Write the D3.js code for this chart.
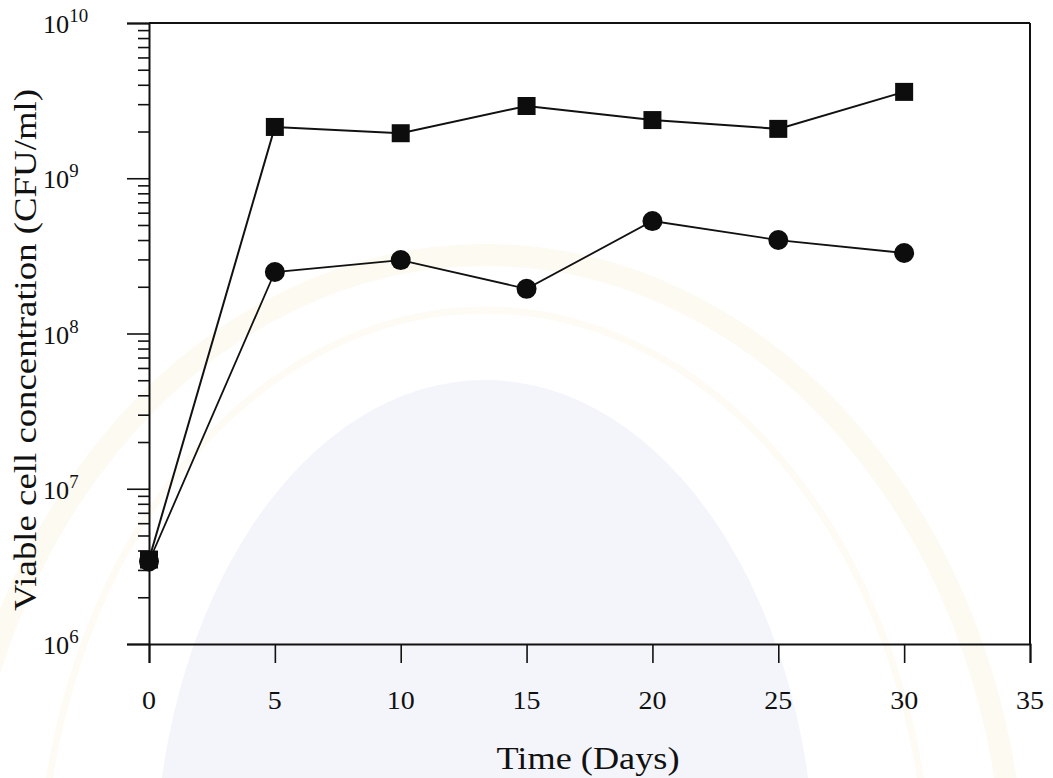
<!DOCTYPE html>
<html>
<head>
<meta charset="utf-8">
<script src="https://cdn.jsdelivr.net/npm/d3@7"></script>
<style>
  html, body { margin: 0; padding: 0; background: #ffffff; }
  svg { display: block; }
  text { font-family: "Liberation Serif", "DejaVu Serif", serif; fill: #111; }
</style>
</head>
<body>
<svg id="chart" width="1053" height="778"></svg>
<script>
// Sampling days
const days = [0, 5, 10, 15, 20, 25, 30];
// Viable cell counts (CFU/ml), square-marker series
const squareCounts = [3.5e6, 2.14e9, 1.95e9, 2.92e9, 2.37e9, 2.08e9, 3.6e9];
// Viable cell counts (CFU/ml), circle-marker series
const circleCounts = [3.4e6, 2.49e8, 2.97e8, 1.94e8, 5.3e8, 4.0e8, 3.3e8];
// Axis ticks
const xTicks = [0, 5, 10, 15, 20, 25, 30, 35];
const yExponents = [6, 7, 8, 9, 10];

const svg = d3.select("#chart");
const W = 1053, H = 778;
const m = { left: 149, right: 23, top: 23, bottom: 134 };
const stretch = 1.12; // horizontal widening of the serif lettering

const x = d3.scaleLinear().domain([0, 35]).range([m.left, W - m.right]);
const y = d3.scaleLog().domain([1e6, 1e10]).range([H - m.bottom, m.top]);

// faint background seal
const bg = svg.append("g").attr("pointer-events", "none");
bg.append("ellipse").attr("cx", 485).attr("cy", 880).attr("rx", 330).attr("ry", 500)
  .attr("fill", "#f4f5fb");
bg.append("ellipse").attr("cx", 485).attr("cy", 900).attr("rx", 530).attr("ry", 645)
  .attr("fill", "none").attr("stroke", "#fcfaf1").attr("stroke-width", 22);
bg.append("ellipse").attr("cx", 485).attr("cy", 900).attr("rx", 445).attr("ry", 590)
  .attr("fill", "none").attr("stroke", "#fdfbf4").attr("stroke-width", 7);

// frame top and right
svg.append("line").attr("x1", x(0)).attr("x2", x(35)).attr("y1", y(1e10)).attr("y2", y(1e10))
  .attr("stroke", "#111").attr("stroke-width", 2);
svg.append("line").attr("x1", x(35)).attr("x2", x(35)).attr("y1", y(1e10)).attr("y2", y(1e6))
  .attr("stroke", "#111").attr("stroke-width", 2);

// x axis
const xAxis = d3.axisBottom(x).tickValues(xTicks).tickSize(19).tickFormat("");
const gx = svg.append("g").attr("transform", `translate(0,${y(1e6)})`).call(xAxis);
gx.select(".domain").attr("stroke", "#111").attr("stroke-width", 2);
gx.selectAll(".tick line").attr("stroke", "#111").attr("stroke-width", 1.6);
xTicks.forEach(v => {
  svg.append("text")
    .attr("transform", `translate(${x(v)},${y(1e6) + 65}) scale(${stretch},1)`)
    .attr("text-anchor", "middle").attr("font-size", 25).text(String(v));
});

// y axis: minor ticks at 2..9 of each decade, majors at powers of ten
const minorVals = [];
for (let e = 6; e < 10; e++) for (let k = 2; k <= 9; k++) minorVals.push(k * Math.pow(10, e));
const yMinor = d3.axisLeft(y).tickValues(minorVals).tickSize(11).tickFormat("");
const gyMinor = svg.append("g").attr("transform", `translate(${x(0)},0)`).call(yMinor);
gyMinor.select(".domain").remove();
gyMinor.selectAll(".tick line").attr("stroke", "#111").attr("stroke-width", 1.6);

const yMajor = d3.axisLeft(y).tickValues(yExponents.map(e => Math.pow(10, e))).tickSize(22).tickFormat("");
const gy = svg.append("g").attr("transform", `translate(${x(0)},0)`).call(yMajor);
gy.select(".domain").attr("stroke", "#111").attr("stroke-width", 2);
gy.selectAll(".tick line").attr("stroke", "#111").attr("stroke-width", 1.6);

// power-of-ten labels
yExponents.forEach(e => {
  const t = svg.append("text")
    .attr("transform", `translate(43,${y(Math.pow(10, e)) + 10}) scale(1.05,1)`)
    .attr("text-anchor", "start").attr("font-size", 25);
  t.append("tspan").text("10");
  t.append("tspan").attr("dy", -11).attr("font-size", 18).text(String(e));
});

// series lines and markers
const line = d3.line().x(d => x(d[0])).y(d => y(d[1]));
const sqData = days.map((d, i) => [d, squareCounts[i]]);
const ciData = days.map((d, i) => [d, circleCounts[i]]);

svg.append("path").datum(ciData).attr("d", line)
  .attr("fill", "none").attr("stroke", "#111").attr("stroke-width", 1.8);
svg.append("path").datum(sqData).attr("d", line)
  .attr("fill", "none").attr("stroke", "#111").attr("stroke-width", 2);

svg.selectAll("circle.pt").data(ciData).join("circle").attr("class", "pt")
  .attr("cx", d => x(d[0])).attr("cy", d => y(d[1])).attr("r", 10).attr("fill", "#0d0d0d");
svg.selectAll("rect.pt").data(sqData).join("rect").attr("class", "pt")
  .attr("x", d => x(d[0]) - 9).attr("y", d => y(d[1]) - 9)
  .attr("width", 18).attr("height", 18).attr("fill", "#0d0d0d");

// axis titles
svg.append("text").attr("x", 588).attr("y", 769).attr("text-anchor", "middle")
  .attr("font-size", 31).attr("textLength", 183).attr("lengthAdjust", "spacingAndGlyphs")
  .text("Time (Days)");
svg.append("text").attr("transform", "translate(36,350) rotate(-90)")
  .attr("text-anchor", "middle").attr("font-size", 31)
  .attr("textLength", 522).attr("lengthAdjust", "spacingAndGlyphs")
  .text("Viable cell concentration (CFU/ml)");
</script>
</body>
</html>
